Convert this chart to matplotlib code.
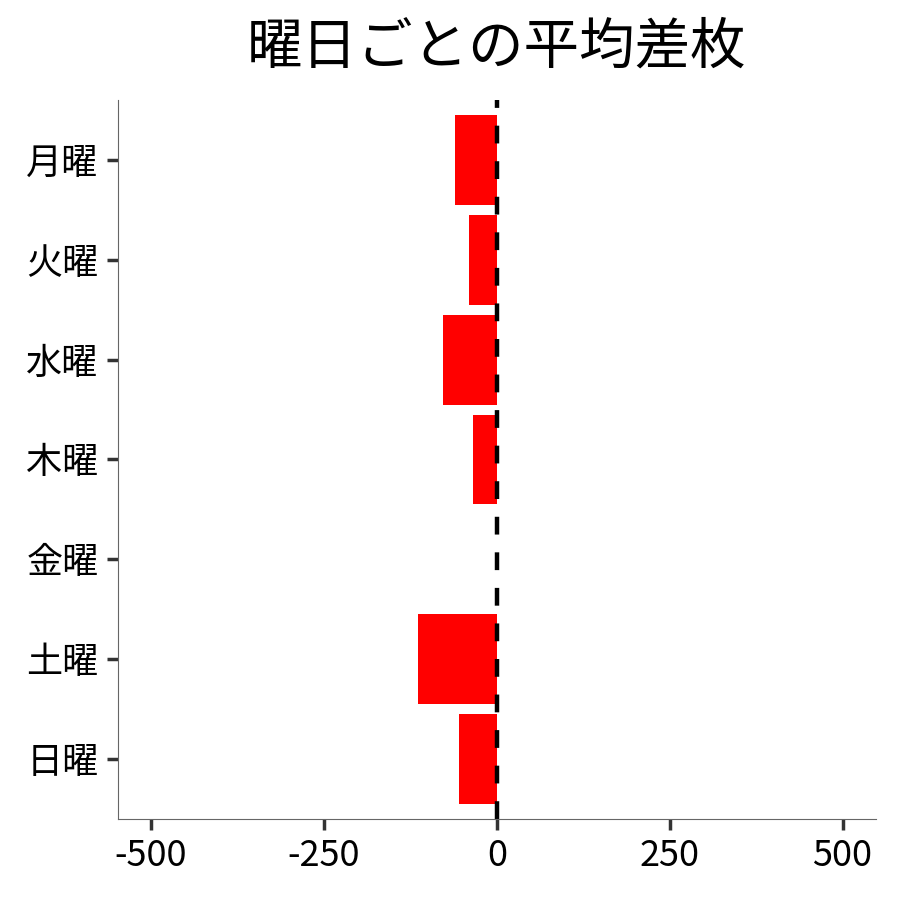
import matplotlib
matplotlib.use("Agg")
import matplotlib.pyplot as plt
import numpy as np

plt.rcParams['font.family'] = ['Noto Sans CJK JP', 'DejaVu Sans']

# 曜日ごとの平均差枚 (読み取り値)
days = ['月曜', '火曜', '水曜', '木曜', '金曜', '土曜', '日曜']
avg_diff = [-61, -40, -78, -35, 1, -114, -55]
xticks = [-500, -250, 0, 250, 500]

fig = plt.figure(figsize=(9, 9), dpi=100)
ax = fig.add_axes([0.131, 0.09, 0.842, 0.799])

y = np.arange(len(days))
ax.barh(y, avg_diff, height=0.9, color='red')
ax.axvline(0, color='black', linestyle='--', linewidth=3.2, dashes=(4, 4))

ax.set_yticks(y)
ax.set_yticklabels(days)
ax.set_ylim(len(days) - 0.4, -0.6)
ax.set_xlim(-548, 548)
ax.set_xticks(xticks)
ax.set_xticklabels([str(v) for v in xticks])

ax.spines['top'].set_visible(False)
ax.spines['right'].set_visible(False)
ax.spines['left'].set_color('#666666')
ax.spines['bottom'].set_color('#666666')
ax.tick_params(axis='both', labelsize=26, length=8, width=2.5, color='#333333', pad=6)

ax.set_title('曜日ごとの平均差枚', fontsize=40, pad=26)

fig.savefig('out.png', dpi=100)
